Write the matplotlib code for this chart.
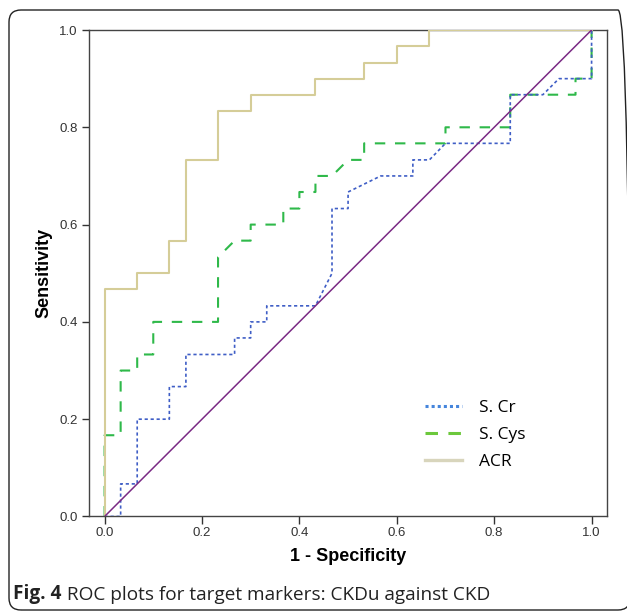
import matplotlib
matplotlib.use('Agg')
import matplotlib.pyplot as plt
from matplotlib.lines import Line2D
from matplotlib.patches import FancyBboxPatch
from matplotlib import rcParams

rcParams['font.family'] = 'Liberation Sans'
rcParams['lines.scale_dashes'] = False

# ROC curve data (1 - specificity, sensitivity)
fpr_cr = [0, .033, .033, .067, .067, .133, .133, .167, .167, .267, .267, .3, .3, .333, .333, .433,
          .467, .467, .5, .5, .567, .633, .633, .667, .7, .833, .833, .9, .933, 1, 1]
tpr_cr = [0, 0, .067, .067, .2, .2, .267, .267, .333, .333, .367, .367, .4, .4, .433, .433,
          .5, .633, .633, .667, .7, .7, .733, .733, .767, .767, .867, .867, .9, .9, 1]

fpr_cys = [0, 0, .033, .033, .067, .067, .1, .1, .233, .233, .267, .3, .3, .367, .367, .4,
           .4, .433, .433, .467, .5, .533, .533, .7, .7, .833, .833, .967, .967, 1, 1]
tpr_cys = [0, .167, .167, .3, .3, .333, .333, .4, .4, .533, .567, .567, .6, .6, .633, .633,
           .667, .667, .7, .7, .733, .733, .767, .767, .8, .8, .867, .867, .9, .9, 1]

fpr_acr = [0, 0, .067, .067, .133, .133, .167, .167, .233, .233, .3, .3, .433, .433, .533, .533,
           .6, .6, .667, .667, 1]
tpr_acr = [0, .467, .467, .5, .5, .567, .567, .733, .733, .833, .833, .867, .867, .9, .9, .933,
           .933, .967, .967, 1, 1]

ref_line = [0, 1]
labels = ['S. Cr', 'S. Cys', 'ACR']
ticks = [0.0, 0.2, 0.4, 0.6, 0.8, 1.0]

#Colours
colCr = '#3f5ec6'
colCys = '#2fb94a'
colAcr = '#d5cd98'
colRef = '#7a2a84'

fig = plt.figure(figsize=(6.27, 6.11), dpi=100)
ax = fig.add_axes([0.1427, 0.1547, 0.8249, 0.7962])

#Plot curves
ax.plot(fpr_cys, tpr_cys, color=colCys, lw=1.5, dashes=(7.5, 7), zorder=2)
ax.plot(fpr_cr, tpr_cr, color=colCr, lw=1.2, dashes=(2.3, 2.0), zorder=3)
ax.plot(fpr_acr, tpr_acr, color=colAcr, lw=1.5, zorder=4)
ax.plot(ref_line, ref_line, color=colRef, lw=1.1, zorder=5)

ax.set_xlim(-0.031, 1.031)
ax.set_ylim(0, 1)
ax.set_xticks(ticks)
ax.set_yticks(ticks)
ax.set_xticklabels([f'{t:.1f}' for t in ticks])
ax.set_yticklabels([f'{t:.1f}' for t in ticks])
ax.tick_params(direction='out', length=5.4, width=1.0, color='#333333',
               labelsize=9.5, labelcolor='#333333', pad=2.5)
ax.tick_params(axis='y', pad=3.2)
for sp in ax.spines.values():
    sp.set_linewidth(1.0)
    sp.set_color('#444444')

ax.set_xlabel('1 - Specificity', fontsize=13, fontweight='bold', labelpad=6)
ax.set_ylabel('Sensitivity', fontsize=13, fontweight='bold', labelpad=4.5)

#Legend with its own handle styles
handles = [Line2D([], [], color='#4585dc', lw=2.2, dashes=(2.2, 2.2)),
           Line2D([], [], color='#6cc83c', lw=2.2, dashes=(9, 7.5)),
           Line2D([], [], color='#d8d5bc', lw=2.4)]
ax.legend(handles, labels, loc='upper left', bbox_to_anchor=(0.649, 0.239),
          frameon=False, borderpad=0, borderaxespad=0, handlelength=2.1,
          handletextpad=1.0, labelspacing=0.62,
          prop={'family': 'Open Sans', 'size': 12.5})

#Outer rounded frame
frame = FancyBboxPatch((0.09, 0.01), 6.21, 6.0, boxstyle='round,pad=0,rounding_size=0.12',
                       transform=fig.dpi_scale_trans, fill=False, lw=1.0, ec='#222222')
fig.add_artist(frame)

#Caption
t1 = fig.text(0.021, 11.5 / 611, 'Fig. 4', fontsize=13.7, fontweight='bold',
              family='Open Sans', ha='left', va='baseline', color='#222222')
ax.annotate(' ROC plots for target markers: CKDu against CKD', xy=(1, 0), xycoords=t1,
            va='bottom', ha='left', fontsize=13.7, family='Open Sans', color='#222222',
            annotation_clip=False)

fig.savefig('out.png', dpi=100, facecolor='white')
